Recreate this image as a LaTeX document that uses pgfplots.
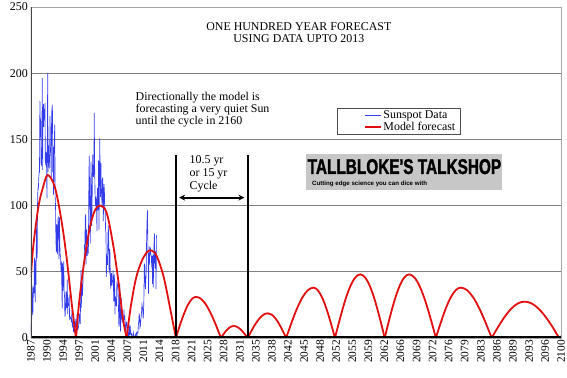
\documentclass[border=0pt]{standalone}
\usepackage{pgfplots}
\pgfplotsset{compat=1.18}
\usepackage{fontspec}
\setmainfont{Liberation Serif}
\newfontfamily\logofont{Liberation Sans Bold}[FakeStretch=0.72, FakeBold=1.5]
\newfontfamily\logosub{Liberation Sans Bold}
\usetikzlibrary{arrows.meta}
\definecolor{ssblue}{RGB}{50,60,235}
\definecolor{mred}{RGB}{225,15,15}
\definecolor{gridgray}{RGB}{128,128,128}
\begin{document}
\begin{tikzpicture}
\begin{axis}[
  name=ax,
  scale only axis, width=532bp, height=332bp,
  xmin=1987, xmax=2100, ymin=0, ymax=250,
  xtick={1987,1990.424,1993.848,1997.273,2000.697,2004.121,2007.545,2010.970,2014.394,2017.818,2021.242,2024.667,2028.091,2031.515,2034.939,2038.364,2041.788,2045.212,2048.636,2052.061,2055.485,2058.909,2062.333,2065.758,2069.182,2072.606,2076.030,2079.455,2082.879,2086.303,2089.727,2093.152,2096.576,2100},
  xticklabels={1987,1990,1994,1997,2001,2004,2007,2011,2014,2018,2021,2025,2028,2031,2035,2038,2042,2045,2048,2052,2055,2059,2062,2066,2069,2072,2076,2079,2083,2086,2089,2093,2096,2100},
  ytick={0,50,100,150,200,250},
  ymajorgrids, grid style={line width=1bp, color=gridgray},
  major tick length=0pt,
  axis line style={draw=gray!70, line width=0.7bp},
  xticklabel style={rotate=90, anchor=east, font=\fontsize{11.5}{11}\selectfont, inner sep=2bp},
  yticklabel style={font=\fontsize{12}{12}\selectfont, inner sep=3bp},
  /pgf/number format/assume math mode=true,
  legend style={at={(rel axis cs:0.577,0.696)}, anchor=north west, draw=gray!60!black, line width=0.6bp,
    font=\fontsize{12}{11}\selectfont, inner xsep=3bp, inner ysep=1bp, row sep=-2.5bp},
  legend cell align=left,
  legend image code/.code={\path (-0.85cm,0cm); \draw[#1] (0cm,0cm) -- (0.55cm,0cm);},
  clip=true,
]
% sunspot data (monthly)
\addplot[color=ssblue, line width=0.65bp] coordinates {
(1987.00,10.4)(1987.08,2.4)(1987.17,14.7)(1987.25,39.6)(1987.33,33.0)(1987.42,17.4)(1987.50,33.0)(1987.58,38.7)(1987.67,33.9)(1987.75,60.6)(1987.83,39.9)(1987.92,27.1)
(1988.00,59.0)(1988.08,40.0)(1988.17,76.2)(1988.25,88.0)(1988.33,60.1)(1988.42,101.8)(1988.50,113.8)(1988.58,111.6)(1988.67,120.1)(1988.75,125.1)(1988.83,125.1)(1988.92,179.2)
(1989.00,161.3)(1989.08,165.1)(1989.17,131.4)(1989.25,130.6)(1989.33,138.5)(1989.42,196.2)(1989.50,126.9)(1989.58,168.9)(1989.67,176.7)(1989.75,159.4)(1989.83,173.0)(1989.92,165.5)
(1990.00,177.3)(1990.08,130.5)(1990.17,140.3)(1990.25,140.3)(1990.33,132.2)(1990.42,105.4)(1990.50,149.4)(1990.58,200.3)(1990.67,125.2)(1990.75,145.5)(1990.83,131.4)(1990.92,129.7)
(1991.00,136.9)(1991.08,167.5)(1991.17,141.9)(1991.25,140.0)(1991.33,121.3)(1991.42,169.7)(1991.50,173.7)(1991.58,176.3)(1991.67,125.3)(1991.75,144.1)(1991.83,108.2)(1991.92,144.4)
(1992.00,150.0)(1992.08,161.1)(1992.17,106.7)(1992.25,99.8)(1992.33,73.8)(1992.42,65.2)(1992.50,85.7)(1992.58,64.5)(1992.67,63.9)(1992.75,88.7)(1992.83,91.8)(1992.92,82.6)
(1993.00,59.3)(1993.08,91.0)(1993.17,69.8)(1993.25,62.2)(1993.33,61.3)(1993.42,49.8)(1993.50,57.9)(1993.58,42.2)(1993.67,22.4)(1993.75,56.4)(1993.83,35.6)(1993.92,48.9)
(1994.00,57.8)(1994.08,35.5)(1994.17,31.7)(1994.25,16.1)(1994.33,17.8)(1994.42,28.0)(1994.50,35.1)(1994.58,22.5)(1994.67,25.7)(1994.75,44.0)(1994.83,18.0)(1994.92,26.2)
(1995.00,24.2)(1995.08,29.9)(1995.17,31.1)(1995.25,14.0)(1995.33,14.5)(1995.42,15.6)(1995.50,14.5)(1995.58,14.3)(1995.67,11.8)(1995.75,21.1)(1995.83,9.0)(1995.92,10.0)
(1996.00,11.5)(1996.08,4.4)(1996.17,9.2)(1996.25,4.8)(1996.33,5.5)(1996.42,11.8)(1996.50,8.2)(1996.58,14.4)(1996.67,1.6)(1996.75,0.9)(1996.83,17.9)(1996.92,13.3)
(1997.00,5.7)(1997.08,7.6)(1997.17,8.7)(1997.25,15.5)(1997.33,18.5)(1997.42,12.7)(1997.50,10.4)(1997.58,24.4)(1997.67,51.3)(1997.75,22.8)(1997.83,39.0)(1997.92,41.2)
(1998.00,31.9)(1998.08,40.3)(1998.17,54.8)(1998.25,53.4)(1998.33,56.3)(1998.42,70.7)(1998.50,66.6)(1998.58,92.2)(1998.67,92.9)(1998.75,55.5)(1998.83,74.0)(1998.92,81.9)
(1999.00,62.0)(1999.08,66.3)(1999.17,68.8)(1999.25,63.7)(1999.33,106.4)(1999.42,137.7)(1999.50,113.5)(1999.58,93.7)(1999.67,71.5)(1999.75,116.7)(1999.83,133.2)(1999.92,84.6)
(2000.00,90.1)(2000.08,112.9)(2000.17,138.5)(2000.25,125.5)(2000.33,121.6)(2000.42,124.9)(2000.50,170.1)(2000.58,130.5)(2000.67,109.7)(2000.75,99.4)(2000.83,106.8)(2000.92,104.4)
(2001.00,95.6)(2001.08,80.6)(2001.17,113.5)(2001.25,107.7)(2001.33,96.6)(2001.42,134.0)(2001.50,81.8)(2001.58,106.4)(2001.67,150.7)(2001.75,125.5)(2001.83,106.5)(2001.92,132.2)
(2002.00,114.1)(2002.08,107.4)(2002.17,98.4)(2002.25,120.7)(2002.33,120.8)(2002.42,88.3)(2002.50,99.6)(2002.58,116.4)(2002.67,109.6)(2002.75,97.5)(2002.83,95.0)(2002.92,81.6)
(2003.00,79.5)(2003.08,46.2)(2003.17,61.5)(2003.25,60.0)(2003.33,55.2)(2003.42,77.4)(2003.50,85.0)(2003.58,72.7)(2003.67,48.8)(2003.75,65.6)(2003.83,67.2)(2003.92,47.0)
(2004.00,37.2)(2004.08,46.0)(2004.17,48.9)(2004.25,39.3)(2004.33,41.5)(2004.42,43.2)(2004.50,51.1)(2004.58,40.9)(2004.67,27.7)(2004.75,48.0)(2004.83,43.5)(2004.92,17.9)
(2005.00,31.3)(2005.08,29.2)(2005.17,24.5)(2005.25,24.2)(2005.33,42.7)(2005.42,39.3)(2005.50,40.0)(2005.58,36.4)(2005.67,22.1)(2005.75,8.5)(2005.83,18.0)(2005.92,41.2)
(2006.00,15.3)(2006.08,4.9)(2006.17,10.6)(2006.25,30.2)(2006.33,22.3)(2006.42,13.9)(2006.50,12.2)(2006.58,12.9)(2006.67,14.4)(2006.75,10.5)(2006.83,21.4)(2006.92,13.6)
(2007.00,16.9)(2007.08,10.6)(2007.17,4.8)(2007.25,3.7)(2007.33,11.7)(2007.42,12.0)(2007.50,10.0)(2007.58,6.2)(2007.67,2.4)(2007.75,0.9)(2007.83,1.7)(2007.92,10.1)
(2008.00,3.4)(2008.08,2.1)(2008.17,9.3)(2008.25,2.9)(2008.33,3.2)(2008.42,3.4)(2008.50,0.5)(2008.58,0.5)(2008.67,1.1)(2008.75,2.9)(2008.83,4.1)(2008.92,0.8)
(2009.00,1.5)(2009.08,1.4)(2009.17,0.7)(2009.25,1.2)(2009.33,2.9)(2009.42,2.6)(2009.50,3.5)(2009.58,0.0)(2009.67,4.2)(2009.75,4.6)(2009.83,4.2)(2009.92,10.6)
(2010.00,13.1)(2010.08,18.6)(2010.17,15.4)(2010.25,7.9)(2010.33,8.8)(2010.42,13.5)(2010.50,16.1)(2010.58,19.6)(2010.67,25.2)(2010.75,23.5)(2010.83,21.6)(2010.92,14.5)
(2011.00,19.0)(2011.08,29.4)(2011.17,56.2)(2011.25,54.4)(2011.33,41.6)(2011.42,37.0)(2011.50,43.9)(2011.58,50.6)(2011.67,78.0)(2011.75,88.0)(2011.83,96.7)(2011.92,73.0)
(2012.00,58.3)(2012.08,33.1)(2012.17,64.2)(2012.25,55.2)(2012.33,69.0)(2012.42,64.5)(2012.50,66.5)(2012.58,63.0)(2012.67,61.4)(2012.75,53.3)(2012.83,61.8)(2012.92,40.8)
(2013.00,62.9)(2013.08,38.1)(2013.17,57.9)(2013.25,72.4)(2013.33,78.7)(2013.42,52.5)(2013.50,57.0)(2013.58,66.0)(2013.67,36.9)(2013.75,76.0)(2013.83,77.6)
};
\addlegendentry{Sunspot Data}
% model forecast arcs
\addplot[color=mred, line width=1.8bp, smooth, tension=0.55] coordinates {
(1987,46)(1987.5,69)(1988.6,99)(1989.6,114)(1990.6,123)(1992.1,114)(1993.5,89)(1994.6,61)(1995.7,26)(1996.6,0)};
\addlegendentry{Model forecast}
\addplot[forget plot, color=mred, line width=1.8bp, smooth, tension=0.55] coordinates {
(1996.6,0)(1997.4,31)(1998.5,61)(1999.6,84)(2000.6,96)(2001.7,100)(2003.1,95)(2004.5,71)(2005.6,44)(2006.6,15)(2007.4,0)};
\addplot[forget plot, color=mred, line width=1.8bp, smooth, tension=0.55] coordinates {
(2007.4,0)(2008.3,24)(2009.4,45)(2010.6,58)(2011.8,65)(2012.7,66)(2013.8,62)(2015.3,46)(2016.8,20)(2017.9,0)};
\addplot[forget plot, color=mred, line width=1.8bp, smooth, tension=0.55] coordinates {
(2017.9,0)(2018.76,9.6)(2019.62,18.2)(2020.48,25.1)(2021.34,29.5)(2022.2,31)(2023.26,29.5)(2024.32,25.1)(2025.38,18.2)(2026.44,9.6)(2027.5,0)};
\addplot[forget plot, color=mred, line width=1.8bp, smooth, tension=0.55] coordinates {
(2027.5,0)(2028.04,2.8)(2028.58,5.3)(2029.12,7.3)(2029.66,8.6)(2030.2,9)(2030.8,8.6)(2031.4,7.3)(2032.0,5.3)(2032.6,2.8)(2033.2,0)};
\addplot[forget plot, color=mred, line width=1.8bp, smooth, tension=0.55] coordinates {
(2033.2,0)(2034.06,5.7)(2034.92,10.9)(2035.78,15.0)(2036.64,17.7)(2037.5,18.6)(2038.28,17.7)(2039.06,15.0)(2039.84,10.9)(2040.62,5.7)(2041.4,0)};
\addplot[forget plot, color=mred, line width=1.8bp, smooth, tension=0.55] coordinates {
(2041.4,0)(2042.56,11.7)(2043.72,22.3)(2044.88,30.7)(2046.04,36.1)(2047.2,38)(2048.12,36.1)(2049.04,30.7)(2049.96,22.3)(2050.88,11.7)(2051.8,0)};
\addplot[forget plot, color=mred, line width=1.8bp, smooth, tension=0.55] coordinates {
(2051.8,0)(2052.88,14.8)(2053.96,28.2)(2055.04,38.8)(2056.12,45.6)(2057.2,48)(2058.24,45.6)(2059.28,38.8)(2060.32,28.2)(2061.36,14.8)(2062.4,0)};
\addplot[forget plot, color=mred, line width=1.8bp, smooth, tension=0.55] coordinates {
(2062.4,0)(2063.44,14.8)(2064.48,28.2)(2065.52,38.8)(2066.56,45.6)(2067.6,48)(2068.74,45.6)(2069.88,38.8)(2071.02,28.2)(2072.16,14.8)(2073.3,0)};
\addplot[forget plot, color=mred, line width=1.8bp, smooth, tension=0.55] coordinates {
(2073.3,0)(2074.36,11.7)(2075.42,22.3)(2076.48,30.7)(2077.54,36.1)(2078.6,38)(2079.92,36.1)(2081.24,30.7)(2082.56,22.3)(2083.88,11.7)(2085.2,0)};
\addplot[forget plot, color=mred, line width=1.8bp, smooth, tension=0.55] coordinates {
(2085.2,0)(2086.6,8.5)(2088.0,16.1)(2089.4,22.2)(2090.8,26.1)(2092.2,27.4)(2093.68,26.1)(2095.16,22.2)(2096.64,16.1)(2098.12,8.5)(2099.6,0)(2100,1.5)};
% annotations
\draw[black, line width=2bp] (axis cs:2017.9,0) -- (axis cs:2017.9,138);
\draw[black, line width=2bp] (axis cs:2033.2,0) -- (axis cs:2033.2,138);
\draw[black, line width=1.8bp, {Stealth[length=6bp,width=6bp]}-{Stealth[length=6bp,width=6bp]}] (axis cs:2018.6,106) -- (axis cs:2032.5,106);
\node[anchor=north west, inner sep=0pt, align=left, font=\fontsize{12}{12.8}\selectfont] at (axis cs:2020.8,137.8) {10.5 yr\\or 15 yr\\Cycle};
\node[anchor=north, inner sep=0pt, align=center, font=\fontsize{12}{12}\selectfont] at (axis cs:2044.1,238) {ONE HUNDRED YEAR FORECAST\\USING DATA UPTO 2013};
\node[anchor=north west, inner sep=0pt, align=left, font=\fontsize{12}{12}\selectfont] at (axis cs:2009.3,186) {Directionally the model is\\forecasting a very quiet Sun\\until the cycle in 2160};
\fill[black!22] (axis cs:2045.6,111.4) rectangle (axis cs:2087.3,139.3);
\node[inner sep=0pt, font=\logofont\fontsize{21.5}{20}\selectfont] at (axis cs:2066.6,129.4) {TALLBLOKE'S TALKSHOP};
\node[anchor=base west, inner sep=0pt, font=\logosub\fontsize{6.2}{6}\selectfont] at (axis cs:2046.9,115.0) {Cutting edge science you can dice with};
\draw[black, line width=3bp] (rel axis cs:0,0) -- (rel axis cs:1,0);
\draw[gray!55!black, line width=1.3bp] (rel axis cs:0,0) -- (rel axis cs:0,1);
\end{axis}
\path ([xshift=-31bp,yshift=-40bp]ax.south west) rectangle ([xshift=4bp,yshift=6bp]ax.north east);
\end{tikzpicture}
\end{document}
